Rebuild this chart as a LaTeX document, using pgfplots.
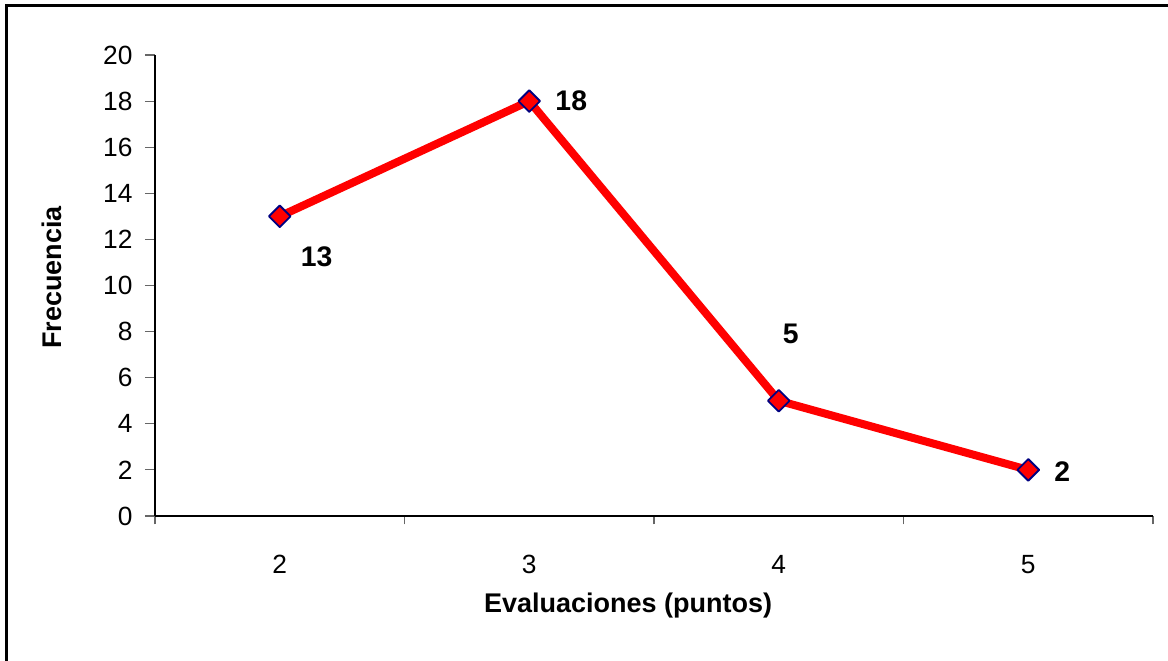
\documentclass[border=0pt]{standalone}
\usepackage{pgfplots}
\pgfplotsset{compat=1.18}
\usepackage{fontspec}
\setmainfont{Liberation Sans}
\definecolor{mred}{RGB}{255,0,0}
\definecolor{mnavy}{RGB}{0,0,128}
\begin{document}
\begin{tikzpicture}
\useasboundingbox (0,0) rectangle (700.8pt,396pt);
\draw[line width=1.8pt, line cap=rect] (3.6pt,-5pt) -- (3.6pt,392.4pt) -- (710pt,392.4pt);
\begin{axis}[
  at={(93pt,86.4pt)}, anchor=south west,
  scale only axis, width=598.8pt, height=276.6pt,
  xmin=1.5, xmax=5.5, ymin=0, ymax=20,
  axis x line=bottom, axis y line=left,
  axis line style={-, black, line width=0.9pt},
  xtick={2,3,4,5},
  minor xtick={1.5,2.5,3.5,4.5,5.5},
  ytick={0,2,...,20},
  tick align=outside,
  major x tick style={draw=none},
  minor tick length=5pt, major tick length=6pt,
  tick style={gray!80!black, line width=0.7pt},
  ticklabel style={font=\fontsize{15.8}{18}\selectfont},
  /pgf/number format/assume math mode=true,
  xticklabel style={yshift=-14pt},
  yticklabel style={xshift=-4pt},
  xlabel={\textbf{Evaluaciones (puntos)}},
  ylabel={\textbf{Frecuencia}},
  label style={font=\fontsize{16.2}{18}\selectfont},
  xlabel style={at={(axis description cs:0.474,-0.195)}, anchor=center},
  ylabel style={at={(axis description cs:-0.103,0.518)}, anchor=center, rotate=0},
  clip=false,
]
\addplot[color=mred, line width=4.8pt, line join=round,
  mark=square*, mark size=4.6pt,
  mark options={rotate=45, fill=mred, draw=mnavy, line width=1.1pt, solid}]
  coordinates {(2,13) (3,18) (4,5) (5,2)};
\begin{scope}[every node/.style={font=\fontsize{17}{19}\selectfont\bfseries, anchor=center}]
\node at (axis cs:2,13) [xshift=22.2pt, yshift=-24pt] {13};
\node at (axis cs:3,18) [xshift=25.2pt, yshift=0pt] {18};
\node at (axis cs:4,5) [xshift=7.2pt, yshift=40.2pt] {5};
\node at (axis cs:5,2) [xshift=20.4pt, yshift=-1.2pt] {2};
\end{scope}
\end{axis}
\end{tikzpicture}
\end{document}
